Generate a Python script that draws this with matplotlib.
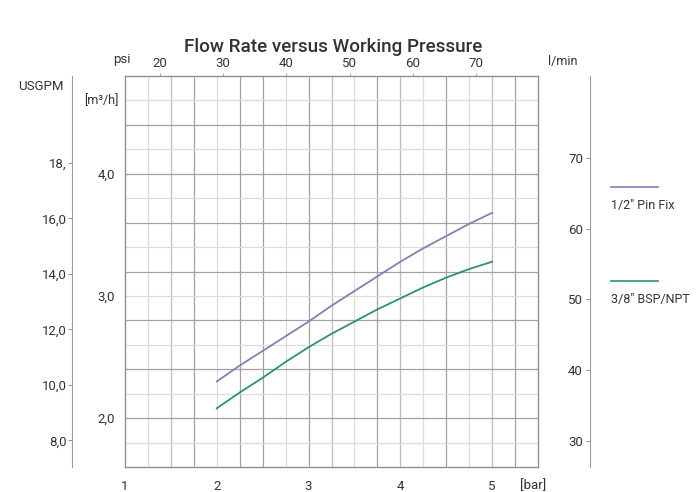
import matplotlib
matplotlib.use("Agg")
import matplotlib.pyplot as plt
from matplotlib.lines import Line2D
from matplotlib import font_manager

# ---------------- data ----------------
pressure_bar = [2.0, 2.25, 2.5, 2.75, 3.0, 3.25, 3.5, 3.75, 4.0, 4.25, 4.5, 4.75, 5.0]
flow_half_pin_fix = [2.30, 2.43, 2.55, 2.67, 2.79, 2.92, 3.04, 3.16, 3.28, 3.39, 3.49, 3.59, 3.68]  # m3/h
flow_3_8_bsp_npt = [2.08, 2.21, 2.33, 2.46, 2.58, 2.69, 2.79, 2.89, 2.98, 3.07, 3.15, 3.22, 3.28]   # m3/h
series_labels = ['1/2" Pin Fix', '3/8" BSP/NPT']

bar_ticks = [1, 2, 3, 4, 5]
bar_tick_labels = ["1", "2", "3", "4", "5"]
m3h_ticks = [2.0, 3.0, 4.0]
m3h_tick_labels = ["2,0", "3,0", "4,0"]
psi_ticks = [20, 30, 40, 50, 60, 70]
psi_tick_labels = ["20", "30", "40", "50", "60", "70"]
usgpm_ticks = [8, 10, 12, 14, 16, 18]
usgpm_tick_labels = ["8,0", "10,0", "12,0", "14,0", "16,0", "18,"]
lpm_ticks = [30, 40, 50, 60, 70]
lpm_tick_labels = ["30", "40", "50", "60", "70"]

# ---------------- style ----------------
avail = {f.name for f in font_manager.fontManager.ttflist}
fam = [f for f in ["Liberation Sans Narrow", "Roboto", "Open Sans", "DejaVu Sans"] if f in avail]
plt.rcParams["font.family"] = fam

W, H = 696, 492
fig = plt.figure(figsize=(W / 100, H / 100), dpi=100)
L, R, T, B = 125, 538, 76, 467
ax = fig.add_axes([L / W, 1 - B / H, (R - L) / W, (B - T) / H])
ax.set_xlim(1, 5.5)
ax.set_ylim(1.6, 4.8)

dark, medium, light = "#a2a2a2", "#bdbdbd", "#dcdcdc"
vgrid = [(1.25, light), (1.5, medium), (1.75, dark), (2.0, light), (2.25, dark),
         (2.5, dark), (2.75, light), (3.0, dark), (3.25, medium), (3.5, light),
         (3.75, dark), (4.0, medium), (4.25, light), (4.5, dark), (4.75, light),
         (5.0, medium), (5.25, dark)]
for v, c in vgrid:
    ax.axvline(v, color=c, lw=0.9, zorder=0)
for i in range(1, 16):
    yv = 1.6 + 0.2 * i
    ax.axhline(yv, color=dark if i % 2 == 0 else light, lw=0.9, zorder=0)

for s in ax.spines.values():
    s.set_color("#8f8f8f")
    s.set_linewidth(1.0)

txt = "#333333"
ax.set_xticks(bar_ticks)
ax.set_xticklabels(bar_tick_labels)
ax.set_yticks(m3h_ticks)
ax.set_yticklabels(m3h_tick_labels)
ax.tick_params(axis="x", length=0, pad=9, labelsize=9.5, labelcolor=txt)
ax.tick_params(axis="y", length=0, pad=7, labelsize=9.5, labelcolor=txt)

# curves
colors = ["#7d82b3", "#2a9660"]
ax.plot(pressure_bar, flow_half_pin_fix, color=colors[0], lw=1.3, zorder=3)
ax.plot(pressure_bar, flow_3_8_bsp_npt, color=colors[1], lw=1.3, zorder=3)

# top psi axis
PSI = 14.5038
sec = ax.secondary_xaxis("top", functions=(lambda b: b * PSI, lambda p: p / PSI))
sec.set_xticks(psi_ticks)
sec.set_xticklabels(psi_tick_labels)
sec.spines["top"].set_visible(False)
sec.tick_params(length=2.5, width=0.8, color="#aaaaaa", pad=2, labelsize=9.5, labelcolor=txt)

# USGPM axis (left, outside)
GPM = 4.40287
usg = ax.secondary_yaxis((72 - L) / (R - L), functions=(lambda m: m * GPM, lambda g: g / GPM))
usg.set_yticks(usgpm_ticks)
usg.set_yticklabels(usgpm_tick_labels)
usg.spines["left"].set_color("#9a9a9a")
usg.tick_params(length=3, width=0.8, color="#9a9a9a", pad=1, labelsize=9.5, labelcolor=txt)

# l/min axis (right, labels on the left of the line)
lp = ax.secondary_yaxis((590 - L) / (R - L),
                        functions=(lambda m: 17.25 * m - 1.26, lambda l: (l + 1.26) / 17.25))
lp.set_alignment("left")
lp.set_yticks(lpm_ticks)
lp.set_yticklabels(lpm_tick_labels)
lp.spines["left"].set_color("#9a9a9a")
lp.tick_params(length=3, width=0.8, color="#9a9a9a", pad=2, labelsize=9.5, labelcolor=txt)

# unit labels
def ftext(x, y, s, **kw):
    fig.text(x / W, 1 - y / H, s, va="center", color=txt, **kw)

ftext(333, 47, "Flow Rate versus Working Pressure", ha="center", fontsize=13.6, fontweight="medium")
ftext(122, 60, "psi", ha="center", fontsize=9.5)
ftext(41, 87, "USGPM", ha="center", fontsize=9.5)
ftext(101, 101, "[m³/h]", ha="center", fontsize=9)
ftext(563, 62, "l/min", ha="center", fontsize=9)
ftext(533, 486, "[bar]", ha="center", fontsize=9.5)

# legend
for (ly, ty), c, lab in zip([(187, 205), (281, 300)], colors, series_labels):
    fig.add_artist(Line2D([611 / W, 658 / W], [1 - ly / H] * 2, transform=fig.transFigure,
                          color=c, lw=1.2))
    ftext(611, ty, lab, ha="left", fontsize=9)

fig.savefig("out.png", dpi=100)
